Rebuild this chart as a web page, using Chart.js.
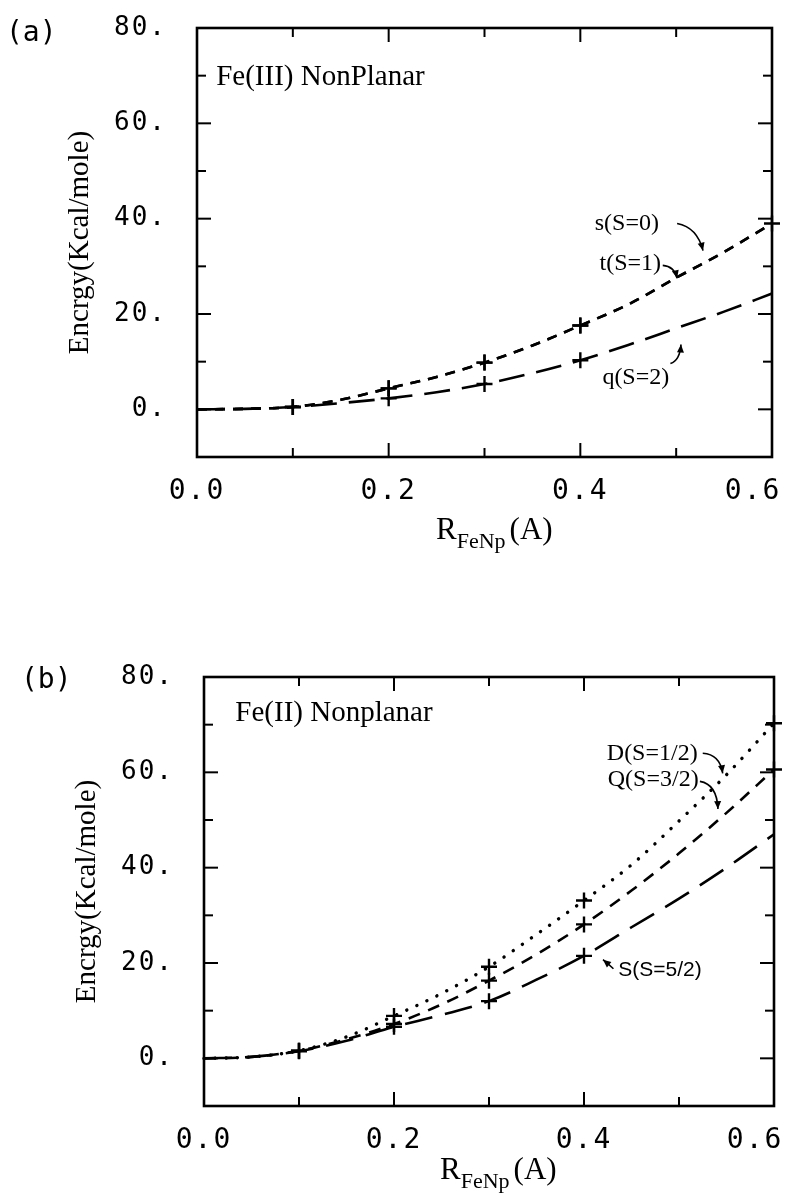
<!DOCTYPE html>
<html><head><meta charset="utf-8">
<script src="https://cdn.jsdelivr.net/npm/chart.js@4"></script>
<style>
html,body{margin:0;padding:0;background:#fff;}
#wrap{position:relative;width:795px;height:1195px;background:#fff;}
canvas{position:absolute;left:0;}
</style>
</head><body>
<div id="wrap">
<canvas id="ca" width="795" height="597" style="top:0px"></canvas>
<canvas id="cb" width="795" height="598" style="top:597px"></canvas>
</div>
<script>
// ---------- data ----------
const rFeNp = [0, 0.05, 0.1, 0.15, 0.2, 0.25, 0.3, 0.35, 0.4, 0.45, 0.5, 0.55, 0.6];
// (a) Fe(III) NonPlanar
const fe3_s = [0, 0.1, 0.5, 2.0, 4.4, 6.8, 9.8, 13.4, 17.6, 22.0, 27.6, 33.0, 39.0];
const fe3_t = [0, 0.1, 0.5, 2.0, 4.4, 6.8, 9.8, 13.4, 17.6, 22.0, 27.6, 33.0, 39.0];
const fe3_q = [0, 0.1, 0.5, 1.3, 2.3, 3.6, 5.3, 7.6, 10.3, 13.5, 17.0, 20.5, 24.3];
// (b) Fe(II) Nonplanar
const fe2_D = [0, 0.3, 1.6, 4.5, 8.9, 13.6, 19.2, 26.0, 33.1, 40.6, 49.8, 59.5, 70.3];
const fe2_Q = [0, 0.3, 1.6, 4.0, 7.2, 11.3, 16.3, 21.8, 28.1, 35.2, 43.0, 51.5, 60.6];
const fe2_S = [0, 0.3, 1.5, 3.7, 6.6, 9.1, 12.0, 16.5, 21.5, 27.5, 33.5, 40.0, 47.0];
// marker positions (crosses)
const marks4 = [0.1, 0.2, 0.3, 0.4];
const marks5 = [0.1, 0.2, 0.3, 0.4, 0.6];
// tick labels
const xLabelValues = [0, 0.2, 0.4, 0.6];
const xLabelTexts = ['0.0', '0.2', '0.4', '0.6'];
const yLabelValues = [0, 20, 40, 60, 80];
const yLabelTexts = ['0.', '20.', '40.', '60.', '80.'];

// ---------- helpers ----------
const near = (a, b) => Math.abs(a - b) < 1e-6;
const pts = vals => rFeNp.map((r, i) => ({x: r, y: vals[i]}));
const markRadius = set => (c => set.some(m => near(m, rFeNp[c.dataIndex])) ? 8 : 0);
const SERIF = '"Liberation Serif", "Times New Roman", serif';
const MONO = '"DejaVu Sans Mono", monospace';

function ds(label, vals, dash, marks, width, cap) {
  return {
    label, data: pts(vals), borderColor: '#000', backgroundColor: '#000',
    borderWidth: width || 2.6, borderDash: dash, borderCapStyle: cap || 'butt',
    fill: false, tension: 0.35, cubicInterpolationMode: 'monotone',
    pointStyle: 'cross', pointRadius: markRadius(marks), pointBorderWidth: 2.4,
    pointBorderColor: '#000', pointHoverRadius: 0, clip: false
  };
}

function decoPlugin(d) {
  return {
    id: 'deco',
    beforeDraw(chart) { chart.ctx.letterSpacing = '2px'; },
    afterDraw(chart) {
      const ctx = chart.ctx;
      ctx.letterSpacing = '0px';
      const {left, right, top, bottom} = chart.chartArea;
      const xs = chart.scales.x, ys = chart.scales.y;
      ctx.save();
      ctx.strokeStyle = '#000'; ctx.fillStyle = '#000';
      ctx.lineWidth = 2.6;
      ctx.strokeRect(left, top, right - left, bottom - top);
      ctx.lineWidth = 2;
      const seg = (a, b, c, e) => { ctx.beginPath(); ctx.moveTo(a, b); ctx.lineTo(c, e); ctx.stroke(); };
      xs.ticks.forEach(t => {
        const v = t.value;
        if (v <= xs.min + 1e-9 || v >= xs.max - 1e-9) return;
        const p = xs.getPixelForValue(v);
        const L = xLabelValues.some(m => near(m, v)) ? 14 : 9;
        seg(p, bottom, p, bottom - L);
        seg(p, top, p, top + L);
      });
      ys.ticks.forEach(t => {
        const v = t.value;
        if (v <= ys.min + 1e-9 || v >= ys.max - 1e-9) return;
        const p = ys.getPixelForValue(v);
        const L = yLabelValues.some(m => near(m, v)) ? 14 : 9;
        seg(left, p, left + L, p);
        seg(right, p, right - L, p);
      });
      // annotation texts
      ctx.textBaseline = 'middle'; ctx.textAlign = 'left';
      d.texts.forEach(o => {
        ctx.font = o.font;
        ctx.fillText(o.t, xs.getPixelForValue(o.x), ys.getPixelForValue(o.y));
      });
      // arrows
      ctx.lineWidth = 1.6;
      d.arrows.forEach(a => {
        const x0 = xs.getPixelForValue(a.x0), y0 = ys.getPixelForValue(a.y0);
        const cx = xs.getPixelForValue(a.cx), cy = ys.getPixelForValue(a.cy);
        const x1 = xs.getPixelForValue(a.x1), y1 = ys.getPixelForValue(a.y1);
        ctx.beginPath(); ctx.moveTo(x0, y0); ctx.quadraticCurveTo(cx, cy, x1, y1); ctx.stroke();
        const ang = Math.atan2(y1 - cy, x1 - cx), L = 8, W = 3.5;
        ctx.beginPath();
        ctx.moveTo(x1, y1);
        ctx.lineTo(x1 - L * Math.cos(ang) + W * Math.sin(ang), y1 - L * Math.sin(ang) - W * Math.cos(ang));
        ctx.lineTo(x1 - L * Math.cos(ang) - W * Math.sin(ang), y1 - L * Math.sin(ang) + W * Math.cos(ang));
        ctx.closePath(); ctx.fill();
      });
      // panel label
      ctx.font = '28px ' + MONO;
      ctx.fillText(d.panel, d.panelX, d.panelY);
      // y axis title (rotated)
      ctx.save();
      ctx.translate(d.yTitleX, (top + bottom) / 2);
      ctx.rotate(-Math.PI / 2);
      ctx.textAlign = 'center'; ctx.textBaseline = 'middle';
      ctx.font = '29px ' + SERIF;
      ctx.fillText('Encrgy(Kcal/mole)', 0, 0);
      ctx.restore();
      // x axis title with subscript
      ctx.textBaseline = 'alphabetic'; ctx.textAlign = 'left';
      let x = d.xTitleX; const yb = d.xTitleY;
      ctx.font = '31px ' + SERIF; ctx.fillText('R', x, yb); x += ctx.measureText('R').width;
      ctx.font = '22px ' + SERIF; ctx.fillText('FeNp', x, yb + 9); x += ctx.measureText('FeNp').width + 4;
      ctx.font = '31px ' + SERIF; ctx.fillText('(A)', x, yb);
      ctx.restore();
    }
  };
}

function makeChart(id, datasets, geo, deco) {
  const canvas = document.getElementById(id);
  const H = canvas.height;
  return new Chart(canvas, {
    type: 'line',
    data: {datasets},
    options: {
      responsive: false, animation: false, devicePixelRatio: 1,
      layout: {autoPadding: false, padding: {left: 0, top: geo.top, right: 795 - geo.right, bottom: 0}},
      plugins: {legend: {display: false}, tooltip: {enabled: false}},
      events: [],
      scales: {
        x: {
          type: 'linear', min: 0, max: 0.6,
          afterFit: s => { s.height = H - geo.bottom; s.paddingLeft = 0; s.paddingRight = 0; },
          grid: {display: false, drawTicks: false}, border: {display: false},
          ticks: {
            stepSize: 0.1, padding: 18, color: '#000', maxRotation: 0, autoSkip: false,
            font: {family: MONO, size: 28},
            callback: v => {
              const i = xLabelValues.findIndex(m => near(m, v));
              if (i < 0) return '';
              // last label sits left of its tick, as in the original
              return i === xLabelValues.length - 1 ? xLabelTexts[i] + '  ' : xLabelTexts[i];
            }
          }
        },
        y: {
          type: 'linear', min: -10, max: 80,
          afterFit: s => { s.width = geo.left; s.paddingTop = 0; s.paddingBottom = 0; },
          grid: {display: false, drawTicks: false}, border: {display: false},
          ticks: {
            stepSize: 10, padding: 30, color: '#000', autoSkip: false,
            font: {family: MONO, size: 26},
            callback: v => { const i = yLabelValues.findIndex(m => near(m, v)); return i >= 0 ? yLabelTexts[i] : ''; }
          }
        }
      }
    },
    plugins: [decoPlugin(deco)]
  });
}

// ---------- panel (a) ----------
makeChart('ca', [
  ds('s(S=0)', fe3_s, [10, 8], marks5),
  ds('t(S=1)', fe3_t, [10, 8], marks4),
  ds('q(S=2)', fe3_q, [26, 12], marks4)
], {left: 197, right: 772, top: 28, bottom: 457}, {
  panel: '(a)', panelX: 6, panelY: 34, yTitleX: 80, xTitleX: 436, xTitleY: 539,
  texts: [
    {t: 'Fe(III) NonPlanar', x: 0.02, y: 69.6, font: '29px ' + SERIF},
    {t: 's(S=0)', x: 0.415, y: 39.0, font: '24px ' + SERIF},
    {t: 't(S=1)', x: 0.42, y: 30.6, font: '24px ' + SERIF},
    {t: 'q(S=2)', x: 0.423, y: 6.7, font: '24px ' + SERIF}
  ],
  arrows: [
    {x0: 0.501, y0: 39.0, cx: 0.522, cy: 38.2, x1: 0.528, y1: 33.3},
    {x0: 0.486, y0: 30.2, cx: 0.498, cy: 30.0, x1: 0.501, y1: 27.5},
    {x0: 0.494, y0: 9.6, cx: 0.504, cy: 10.3, x1: 0.505, y1: 13.6}
  ]
});

// ---------- panel (b) ----------
makeChart('cb', [
  ds('D(S=1/2)', fe2_D, [0.1, 11], marks5, 3.4, 'round'),
  ds('Q(S=3/2)', fe2_Q, [12, 9], marks5),
  ds('S(S=5/2)', fe2_S, [28, 13], marks4)
], {left: 204, right: 774, top: 80, bottom: 509}, {
  panel: '(b)', panelX: 21, panelY: 84, yTitleX: 87, xTitleX: 440, xTitleY: 582,
  texts: [
    {t: 'Fe(II) Nonplanar', x: 0.033, y: 72.3, font: '29px ' + SERIF},
    {t: 'D(S=1/2)', x: 0.424, y: 64.0, font: '24px ' + SERIF},
    {t: 'Q(S=3/2)', x: 0.425, y: 58.5, font: '24px ' + SERIF},
    {t: 'S(S=5/2)', x: 0.436, y: 18.4, font: '21px "Liberation Sans", sans-serif'}
  ],
  arrows: [
    {x0: 0.525, y0: 64.0, cx: 0.543, cy: 63.8, x1: 0.546, y1: 59.8},
    {x0: 0.522, y0: 58.1, cx: 0.540, cy: 57.5, x1: 0.541, y1: 52.3},
    {x0: 0.431, y0: 18.8, cx: 0.426, cy: 19.7, x1: 0.420, y1: 20.7}
  ]
});
</script>
</body></html>
